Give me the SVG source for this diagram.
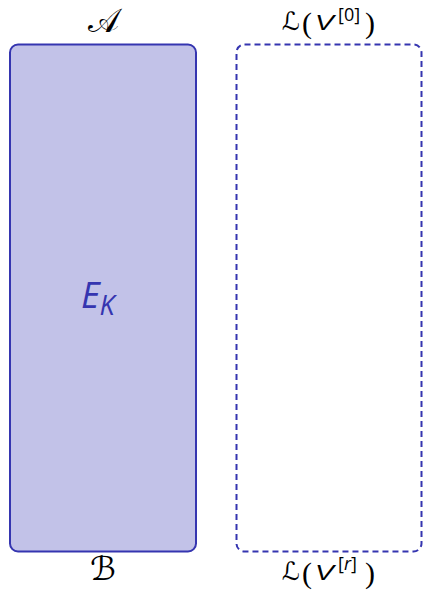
<svg xmlns="http://www.w3.org/2000/svg" width="423" height="590" viewBox="0 0 423 590">
<style>
.box{stroke:#3535b0;stroke-width:2}
.scr{font-family:"DejaVu Sans","Noto Sans",sans-serif;font-size:33px;fill:#000}
.scl{font-family:"DejaVu Sans","Noto Sans",sans-serif;font-size:25px;fill:#000}
.par{font-family:"Liberation Serif","DejaVu Serif",serif;font-size:30px;fill:#000}
.v{font-family:"Liberation Sans","Open Sans",sans-serif;font-style:italic;font-size:22px;fill:#000}
.sup{font-family:"Open Sans","Noto Sans",sans-serif;font-size:18px;fill:#000}
.ek{font-family:"Open Sans","Noto Sans",sans-serif;font-style:italic;fill:#3535b0}
</style>
<g id="nodeA">
<rect class="box" x="10" y="44.5" width="186" height="507" rx="8" fill="#c2c2e8"/>
<text class="ek" x="81" y="308" font-size="36">E<tspan font-size="27" dy="7">K</tspan></text>
</g>
<g id="nodeL">
<rect class="box" x="236.5" y="44.5" width="185" height="507" rx="8" fill="none" stroke-dasharray="6,4"/>
</g>
<g id="labels">
<text class="scr" x="103" y="32" text-anchor="middle">𝒜</text>
<text class="scr" x="103" y="580" text-anchor="middle">ℬ</text>
<text class="scl" x="282" y="30">ℒ</text>
<text class="par" x="302" y="33">(</text>
<text class="v" x="315" y="30" textLength="19" lengthAdjust="spacingAndGlyphs">V</text>
<text class="sup" x="338" y="21">[0]</text>
<text class="par" x="365" y="33">)</text>
<text class="scl" x="282" y="580">ℒ</text>
<text class="par" x="302" y="583">(</text>
<text class="v" x="315" y="580" textLength="19" lengthAdjust="spacingAndGlyphs">V</text>
<text class="sup" x="338" y="570">[<tspan font-style="italic">r</tspan>]</text>
<text class="par" x="365" y="583">)</text>
</g>
<g id="connectors"></g>
</svg>
